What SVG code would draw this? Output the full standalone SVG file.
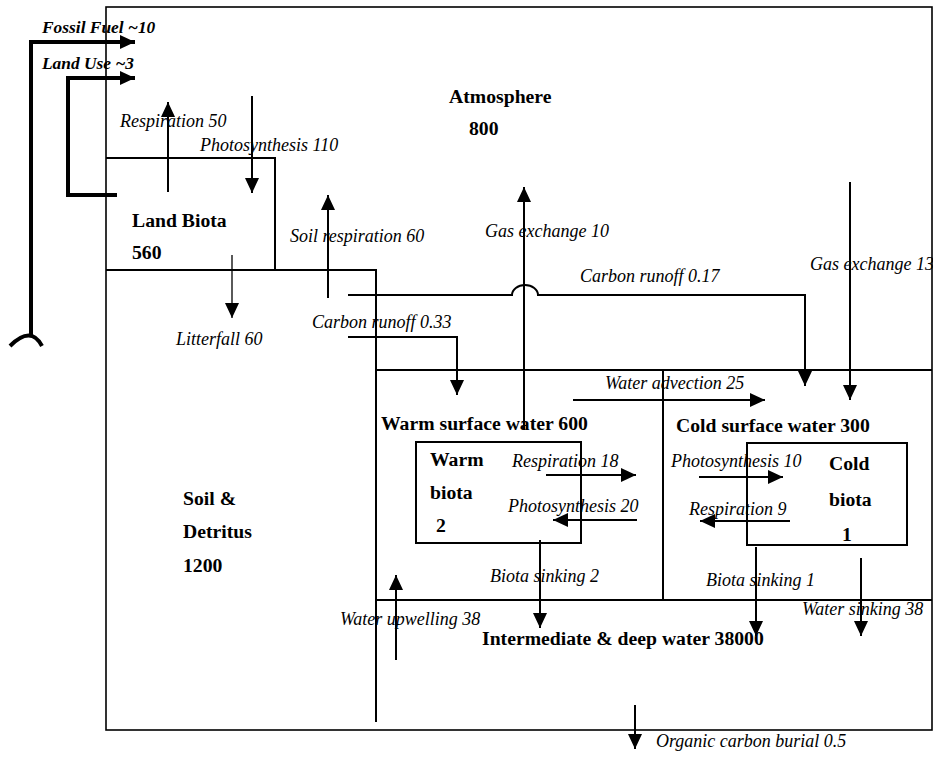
<svg xmlns="http://www.w3.org/2000/svg" width="933" height="758" viewBox="0 0 933 758" font-family="Liberation Serif, Times New Roman, serif">
<defs>
<marker id="ah" markerUnits="userSpaceOnUse" markerWidth="16" markerHeight="16" refX="15" refY="7" orient="auto"><path d="M0,0 L15,7 L0,14 z" fill="#000"/></marker>
<style>
.box{fill:none;stroke:#000;stroke-width:1.6}
.ln{fill:none;stroke:#000;stroke-width:2}
.ar{fill:none;stroke:#000;stroke-width:2;marker-end:url(#ah)}
.thin{fill:none;stroke:#000;stroke-width:1.3;marker-end:url(#ah)}
.thick{fill:none;stroke:#000;stroke-width:4}
.tharr{fill:none;stroke:#000;stroke-width:4;marker-end:url(#ah)}
.lbl{font-style:italic;font-size:18px;fill:#000}
.nm{font-weight:bold;font-size:19.7px;fill:#000}
.bi{font-weight:bold;font-style:italic;font-size:17.4px;fill:#000}
</style>
</defs>
<rect width="933" height="758" fill="#fff"/>

<g id="atmosphere">
<rect class="box" x="106" y="7" width="826" height="723"/>
<text class="nm" x="449" y="103">Atmosphere</text>
<text class="nm" x="469" y="135">800</text>
</g>

<g id="land-biota">
<path class="ln" d="M106,158 H275 V270"/>
<text class="nm" x="132" y="227">Land Biota</text>
<text class="nm" x="132" y="259">560</text>
</g>

<g id="soil-detritus">
<path class="ln" d="M106,270 H376 V722"/>
<text class="nm" x="183" y="505">Soil &amp;</text>
<text class="nm" x="183" y="538">Detritus</text>
<text class="nm" x="183" y="572">1200</text>
</g>

<g id="warm-surface-water">
<path class="ln" d="M376,370 H932"/>
<path class="ln" d="M663,370 V600"/>
<text class="nm" x="381" y="430">Warm surface water 600</text>
</g>

<g id="cold-surface-water">
<text class="nm" x="676" y="432">Cold surface water 300</text>
</g>

<g id="warm-biota">
<rect class="ln" x="416" y="442" width="165" height="101"/>
<text class="nm" x="430" y="466">Warm</text>
<text class="nm" x="430" y="499">biota</text>
<text class="nm" x="436" y="532">2</text>
</g>

<g id="cold-biota">
<rect class="ln" x="747" y="443" width="160" height="102"/>
<text class="nm" x="829" y="470">Cold</text>
<text class="nm" x="829" y="506">biota</text>
<text class="nm" x="842" y="541">1</text>
</g>

<g id="deep-water">
<path class="ln" d="M376,600 H932"/>
<text class="nm" x="482" y="645">Intermediate &amp; deep water 38000</text>
</g>

<g id="connectors">
<path class="thick" d="M31,335 V42 H120"/>
<path class="tharr" d="M110,42 H135"/>
<path class="thick" stroke-width="3" d="M10,346 Q31,325 42,346"/>
<text class="bi" x="42" y="33">Fossil Fuel ~10</text>

<path class="thick" d="M117,195 H68 V80"/>
<path class="tharr" d="M66,78 H135"/>
<text class="bi" x="42" y="69">Land Use ~3</text>

<path class="ar" d="M168,192 V102"/>
<text class="lbl" x="120" y="127">Respiration 50</text>

<path class="ar" d="M252,96 V193"/>
<text class="lbl" x="200" y="151">Photosynthesis 110</text>

<path class="thin" d="M232,255 V318"/>
<text class="lbl" x="176" y="345">Litterfall 60</text>

<path class="ar" d="M328,298 V195"/>
<text class="lbl" x="290" y="242">Soil respiration 60</text>

<path class="ar" d="M348,295 H512 A13,10 0 0 1 538,295 H805 V386"/>
<text class="lbl" x="580" y="282">Carbon runoff 0.17</text>

<path class="ar" d="M348,337 H457 V395"/>
<text class="lbl" x="312" y="328">Carbon runoff 0.33</text>

<path class="ar" d="M524,430 V187"/>
<text class="lbl" x="485" y="237">Gas exchange 10</text>

<path class="ar" d="M850,182 V400"/>
<text class="lbl" x="810" y="270">Gas exchange 13</text>

<path class="ar" d="M573,400 H765"/>
<text class="lbl" x="605" y="389">Water advection 25</text>

<path class="ar" d="M546,475 H636"/>
<text class="lbl" x="512" y="467">Respiration 18</text>

<path class="ar" d="M637,520 H553"/>
<text class="lbl" x="508" y="512">Photosynthesis 20</text>

<path class="ar" d="M699,477 H783"/>
<text class="lbl" x="671" y="467">Photosynthesis 10</text>

<path class="ar" d="M790,521 H700"/>
<text class="lbl" x="689" y="515">Respiration 9</text>

<path class="ar" d="M540,540 V628"/>
<text class="lbl" x="490" y="582">Biota sinking 2</text>

<path class="ar" d="M756,547 V636"/>
<text class="lbl" x="706" y="586">Biota sinking 1</text>

<path class="ar" d="M861,558 V636"/>
<text class="lbl" x="802" y="615">Water sinking 38</text>

<path class="ar" d="M396,660 V575"/>
<text class="lbl" x="340" y="625">Water upwelling 38</text>

<path class="ar" d="M635,705 V749"/>
<text class="lbl" x="656" y="747">Organic carbon burial 0.5</text>
</g>
</svg>
